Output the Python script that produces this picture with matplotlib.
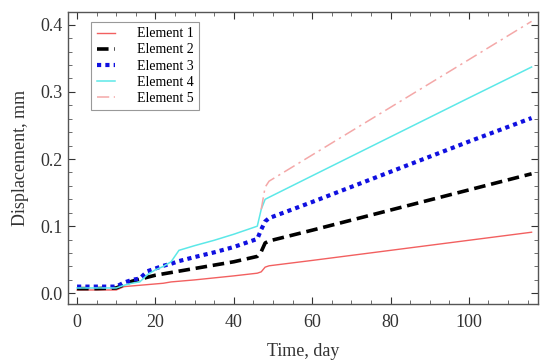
import numpy as np
import matplotlib
matplotlib.use('Agg')
import matplotlib.pyplot as plt
from matplotlib.ticker import MultipleLocator

# dados (dia, deslocamento em mm)
dias = [0, 5, 10, 12, 14, 16, 18, 20, 22, 24, 26, 30, 35, 40, 46, 47, 48, 49, 60, 80, 100, 116]

elem1 = [0.005, 0.005, 0.005, 0.010, 0.011, 0.012, 0.013, 0.014, 0.015, 0.017, 0.018, 0.020,
         0.023, 0.026, 0.030, 0.032, 0.039, 0.041, 0.049, 0.064, 0.079, 0.091]
elem2 = [0.007, 0.007, 0.008, 0.013, 0.018, 0.021, 0.024, 0.027, 0.029, 0.031, 0.033, 0.037,
         0.042, 0.047, 0.055, 0.062, 0.075, 0.078, 0.094, 0.124, 0.154, 0.178]
elem3 = [0.010, 0.010, 0.010, 0.016, 0.020, 0.022, 0.033, 0.037, 0.041, 0.044, 0.048, 0.054,
         0.061, 0.069, 0.081, 0.095, 0.107, 0.112, 0.136, 0.181, 0.226, 0.261]
elem4 = [0.008, 0.008, 0.008, 0.012, 0.015, 0.017, 0.028, 0.035, 0.040, 0.047, 0.064, 0.071,
         0.079, 0.088, 0.100, 0.125, 0.140, 0.143, 0.175, 0.233, 0.291, 0.337]
elem5 = [0.008, 0.008, 0.008, 0.012, 0.015, 0.017, 0.028, 0.035, 0.040, 0.047, 0.064, 0.071,
         0.079, 0.088, 0.100, 0.125, 0.158, 0.167, 0.206, 0.277, 0.348, 0.405]

nomes = ['Element 1', 'Element 2', 'Element 3', 'Element 4', 'Element 5']

plt.rcParams['font.family'] = ['Liberation Serif', 'DejaVu Serif']

fig = plt.figure(figsize=(5.4, 3.62), dpi=100)
ax = fig.add_axes([0.126, 0.160, 0.870, 0.807])

# desenhando as curvas
ax.plot(dias, elem1, color='#f26060', lw=1.0, label=nomes[0])
ax.plot(dias, elem2, color='black', lw=2.6, dashes=(3.2, 1.6), label=nomes[1])
ax.plot(dias, elem3, color='#1010e0', lw=3.0, dashes=(1.0, 1.0), label=nomes[2])
ax.plot(dias, elem4, color='#5ce8e8', lw=1.1, label=nomes[3])
ax.plot(dias[15:], elem5[15:], color='#f4a8a8', lw=1.1, dashes=(8, 3, 1.5, 3), label=nomes[4])

ax.set_xlim(-2.3, 117.6)
ax.set_ylim(-0.016, 0.419)
ax.xaxis.set_major_locator(MultipleLocator(20))
ax.xaxis.set_minor_locator(MultipleLocator(5))
ax.yaxis.set_major_locator(MultipleLocator(0.1))
ax.yaxis.set_minor_locator(MultipleLocator(0.02))
ax.yaxis.set_major_formatter(plt.FuncFormatter(lambda v, p: '%.1f' % v))

ax.tick_params(which='both', direction='in', top=True, right=True, color='#555555')
ax.tick_params(which='major', length=5, labelsize=13, colors='#333333')
ax.tick_params(which='minor', length=3)
ax.tick_params(axis='x', which='major', pad=7)
ax.tick_params(axis='y', which='major', pad=4)
for s in ax.spines.values():
    s.set_color('#555555')
    s.set_linewidth(1.0)

ax.set_xlabel('Time, day', fontsize=13, color='#333333', labelpad=9)
ax.set_ylabel('Displacement, mm', fontsize=13, color='#333333', labelpad=8)

leg = ax.legend(loc='upper left', bbox_to_anchor=(0.049, 0.966), fontsize=10,
                handlelength=1.3, handletextpad=1.6, borderpad=0.4, labelspacing=0.22,
                borderaxespad=0, fancybox=False, framealpha=1)
leg.get_frame().set_edgecolor('#999999')
leg.get_frame().set_linewidth(0.8)

fig.savefig('out.png', dpi=100)
